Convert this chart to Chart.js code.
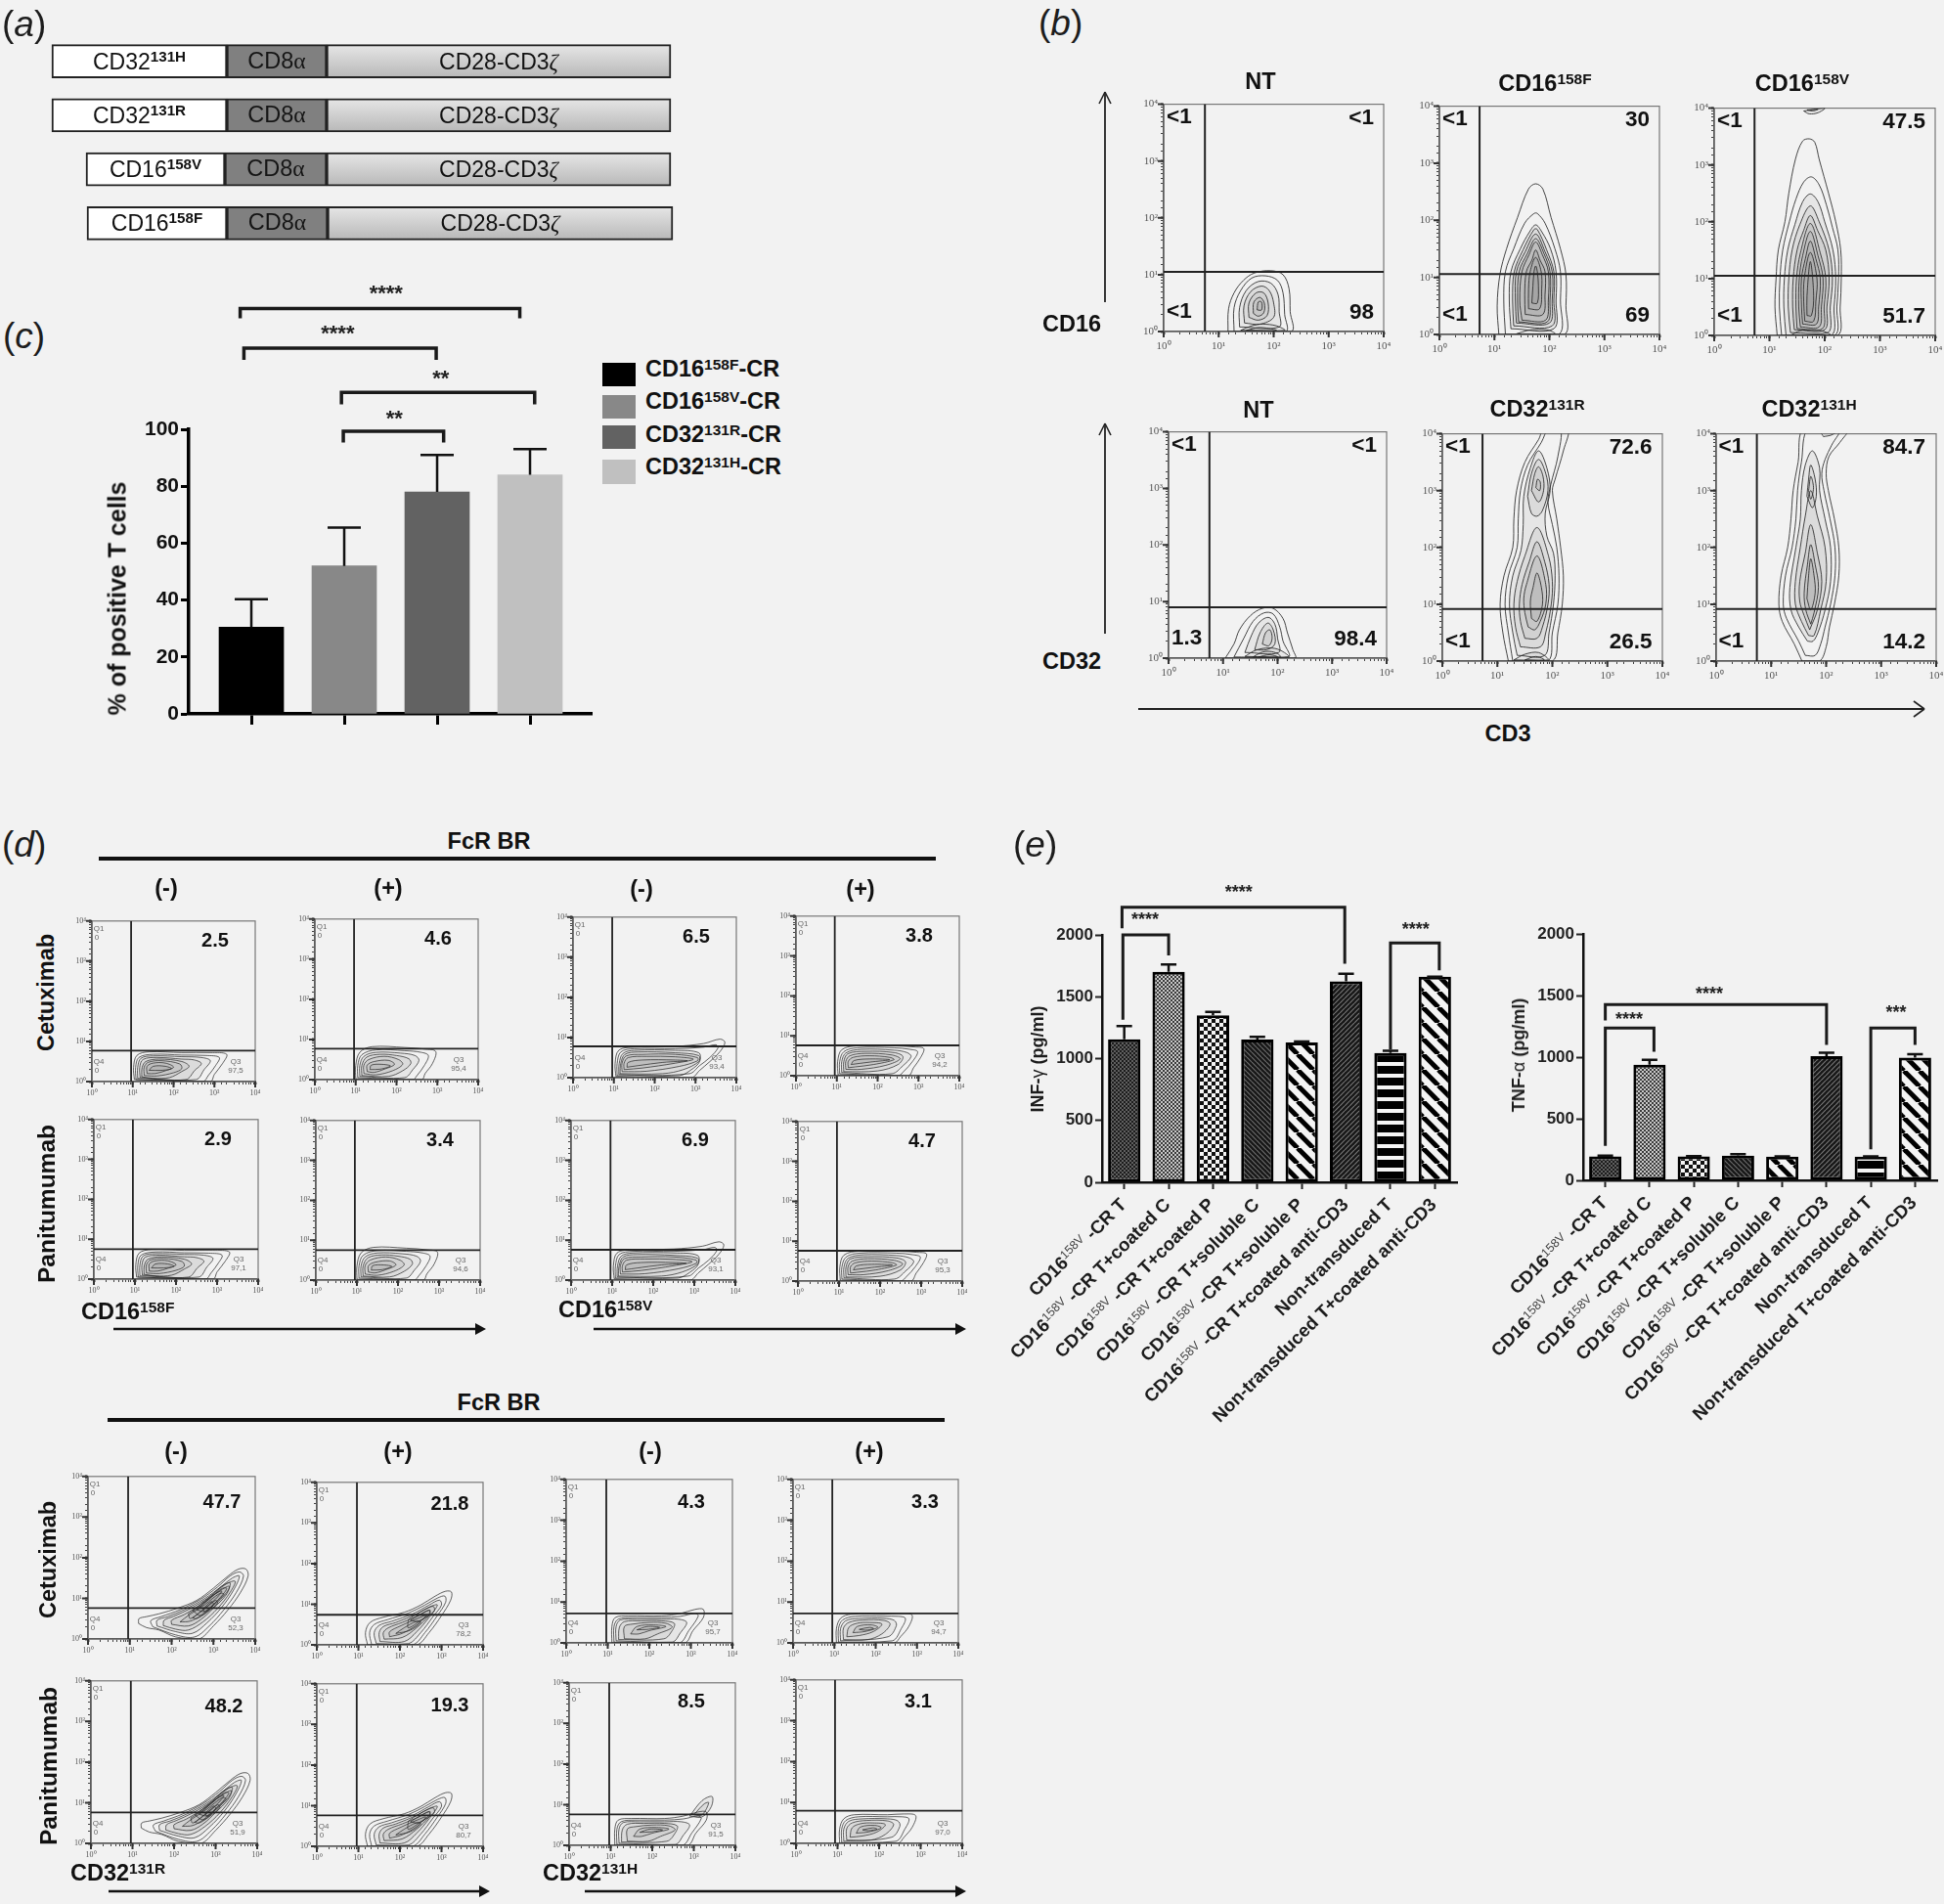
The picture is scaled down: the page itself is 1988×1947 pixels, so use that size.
<!DOCTYPE html>
<html><head><meta charset="utf-8">
<script src="https://cdn.jsdelivr.net/npm/chart.js@4"></script>
<style>
html,body{margin:0;padding:0;background:#f2f2f2;}
#page{position:relative;width:1988px;height:1947px;background:#f2f2f2;overflow:hidden;font-family:"Liberation Sans",Arial,sans-serif;color:#111;filter:blur(0.45px);}
canvas{position:absolute;display:block;}
.t{position:absolute;white-space:nowrap;line-height:1;}
.c{transform:translate(-50%,-50%);}
.r90{transform:translate(-50%,-50%) rotate(-90deg);}
.b{font-weight:700;}
.s{font-size:.66em;vertical-align:.5em;line-height:0;}
.g{font-family:"Liberation Serif",serif;}
svg{position:absolute;left:0;top:0;}
</style></head><body><div id="page"></div>
<script>
/* ---------- panel (a): construct domains, schematic units ---------- */
const constructs=['CD32<span class="s b">131H</span>','CD32<span class="s b">131R</span>','CD16<span class="s b">158V</span>','CD16<span class="s b">158F</span>'];
const ligandDomain=[[53,232],[53,232],[88,230],[89,232]];
const hingeDomain=[[232,334],[232,334],[230,334],[232,335]];
const signalDomain=[[334,686],[334,686],[334,686],[335,688]];

/* ---------- panel (c) ---------- */
const cCategories=['CD16<span class="s">158F</span>-CR','CD16<span class="s">158V</span>-CR','CD32<span class="s">131R</span>-CR','CD32<span class="s">131H</span>-CR'];
const cValues=[30.5,52,78,84];
const cErrorTop=[40.3,65.5,91,93];
const cTicks=[0,20,40,60,80,100];

/* ---------- panel (e) ---------- */
const eCategories=['CD16<span class="s e">158V</span>&nbsp;-CR T','CD16<span class="s e">158V</span>&nbsp;-CR T+coated C','CD16<span class="s e">158V</span>&nbsp;-CR T+coated P','CD16<span class="s e">158V</span>&nbsp;-CR T+soluble C','CD16<span class="s e">158V</span>&nbsp;-CR T+soluble P','CD16<span class="s e">158V</span>&nbsp;-CR T+coated anti-CD3','Non-transduced T','Non-transduced T+coated anti-CD3'];
const infValues=[1157,1701,1350,1154,1130,1625,1045,1662];
const infErrorTop=[1263,1761,1378,1175,1139,1686,1063,1662];
const tnfValues=[195,939,195,200,192,1007,192,996];
const tnfErrorTop=[200,979,197,212,195,1035,195,1024];
const eTicks=[0,500,1000,1500,2000];

/* ---------- flow cytometry contours, log10 units: x1,y1,x2,y2,... ---------- */
const NT16=[
[1.17,0,1.18,.4,1.28,.68,1.45,.9,1.65,1.03,1.95,1.07,2.17,1,2.28,.75,2.3,.35,2.32,0],
[1.28,0,1.28,.42,1.4,.72,1.6,.94,1.85,.98,2.07,.9,2.17,.68,2.2,.3,2.22,0],
[1.38,.08,1.38,.42,1.5,.72,1.72,.88,1.95,.85,2.08,.65,2.1,.35,2.1,.08],
[1.47,.15,1.46,.45,1.58,.7,1.78,.8,1.92,.72,2,.5,2,.25,1.75,.13],
[1.55,.25,1.55,.5,1.68,.68,1.82,.68,1.9,.5,1.88,.28,1.72,.2],
[1.63,.32,1.64,.52,1.75,.6,1.83,.5,1.82,.33,1.72,.27],
[1.7,.38,1.72,.52,1.78,.52,1.78,.38],
[1.4,.02,1.6,.1,1.8,.13,2.05,.1,2.2,.02],
[1.5,.02,1.75,.07,2.05,.02]];
const NT32=[
[1.04,0,1.2,.25,1.3,.5,1.5,.75,1.72,.88,1.92,.88,2.1,.7,2.18,.45,2.28,.15,2.32,0],
[1.2,.02,1.38,.35,1.55,.65,1.75,.8,1.92,.78,2.04,.55,2.1,.3,2.2,.02],
[1.4,.1,1.52,.4,1.65,.62,1.83,.72,1.95,.6,2,.35,2.02,.1],
[1.58,.15,1.68,.45,1.82,.62,1.92,.5,1.95,.25,1.8,.15],
[1.72,.25,1.78,.45,1.86,.5,1.9,.35,1.84,.22],
[1.4,.03,1.6,.14,1.85,.18,2.05,.14,2.2,.02],
[1.55,.02,1.7,.1,1.85,.12,2,.08,2.05,.02],
[1.65,.02,1.85,.06,2,.02]];
const TALL16F=[
[1.08,0,1.05,.5,1.1,1.05,1.22,1.5,1.42,2.05,1.62,2.55,1.75,2.64,1.88,2.55,2.03,2.05,2.2,1.5,2.3,1.05,2.3,.5,2.27,0],
[1.2,0,1.17,.6,1.2,1.1,1.35,1.5,1.55,1.95,1.72,2.12,1.78,2.12,1.92,1.95,2.1,1.5,2.2,1.1,2.2,.6,2.17,0],
[1.3,.1,1.27,.6,1.3,1.1,1.47,1.5,1.64,1.8,1.75,1.92,1.86,1.8,2.02,1.5,2.12,1.1,2.12,.6,2.08,.1],
[1.4,.2,1.38,.6,1.4,1.1,1.56,1.45,1.75,1.76,1.92,1.45,2.05,1.1,2.05,.6,2,.2],
[1.5,.25,1.46,.6,1.5,1.1,1.63,1.4,1.75,1.62,1.87,1.4,1.98,1.1,1.98,.6,1.93,.25],
[1.56,.35,1.55,.7,1.58,1.1,1.68,1.3,1.75,1.48,1.83,1.3,1.92,1.1,1.92,.7,1.88,.35],
[1.62,.45,1.62,.8,1.65,1.1,1.75,1.35,1.85,1.1,1.86,.8,1.82,.45],
[1.68,.55,1.7,.85,1.72,1.1,1.75,1.2,1.78,1.1,1.8,.85,1.78,.55],
[1.35,.15,1.33,.6,1.36,1.1,1.52,1.48,1.72,1.84,1.78,1.84,1.95,1.48,2.08,1.1,2.08,.6,2.05,.15],
[1.44,.22,1.42,.6,1.45,1.1,1.6,1.42,1.75,1.68,1.9,1.42,2.01,1.1,2.01,.6,1.96,.22],
[1.4,.01,1.6,.07,1.8,.09,2,.07,2.1,.01]];
const TALL16V=[
[1.14,0,1.1,.5,1.12,1,1.16,1.5,1.28,2,1.35,2.5,1.47,3.1,1.6,3.42,1.72,3.46,1.82,3.4,1.9,3.1,2.07,2.5,2.2,2,2.29,1.5,2.3,1,2.28,.5,2.23,0],
[1.22,0,1.18,.5,1.19,1,1.24,1.5,1.36,2,1.48,2.4,1.62,2.7,1.76,2.79,1.9,2.65,2.03,2.3,2.14,1.9,2.24,1.5,2.25,1,2.22,.5,2.18,0],
[1.3,0,1.26,.5,1.27,1,1.33,1.5,1.46,1.95,1.6,2.35,1.74,2.49,1.88,2.35,2,2,2.15,1.5,2.2,1,2.17,.5,2.12,0],
[1.38,.05,1.34,.5,1.35,1,1.41,1.5,1.55,1.95,1.74,2.28,1.9,2,2.08,1.5,2.14,1,2.1,.5,2.06,.05],
[1.45,.1,1.42,.5,1.43,1,1.5,1.5,1.62,1.85,1.74,2.11,1.87,1.85,2.02,1.5,2.08,1,2.04,.5,2,.1],
[1.5,.12,1.48,.5,1.49,1,1.56,1.45,1.74,1.97,1.92,1.45,2.02,1,1.99,.5,1.96,.12],
[1.56,.15,1.53,.5,1.54,1,1.6,1.4,1.74,1.83,1.88,1.4,1.97,1,1.94,.5,1.9,.15],
[1.6,.2,1.58,.5,1.58,1,1.65,1.35,1.74,1.66,1.84,1.35,1.92,1,1.89,.5,1.85,.2],
[1.64,.25,1.62,.6,1.63,1,1.74,1.46,1.86,1,1.84,.6,1.8,.25],
[1.68,.35,1.68,.7,1.74,1.3,1.8,.7,1.76,.35],
[1.4,.01,1.55,.08,1.75,.1,1.95,.08,2.1,.01],
[1.62,3.95,1.72,3.9,1.88,3.92,2,4],
[1.68,3.97,1.78,3.95,1.88,3.98]];
const TALL32R=[
[1.2,0,1.1,.5,1.05,1,1.12,1.5,1.28,2,1.3,2.5,1.35,3,1.5,3.5,1.75,3.9,1.86,4.1,2.28,4.1,2.2,3.7,2.05,3.2,2,3,2.08,2.5,2.15,2,2.2,1.5,2.18,1,2.1,.5,2,0],
[1.28,0,1.2,.5,1.14,1,1.2,1.5,1.36,2,1.38,2.5,1.42,3,1.55,3.45,1.8,3.85,1.94,4.1,2.15,4.1,2.1,3.6,1.97,3.1,1.92,2.8,2,2.4,2.08,2,2.12,1.5,2.1,1,2,.5,1.92,0],
[1.36,.1,1.28,.5,1.22,1,1.28,1.5,1.43,1.95,1.47,2.4,1.48,2.9,1.6,3.4,1.75,3.7,1.9,3.4,1.96,3,1.87,2.6,1.9,2.2,2.02,1.9,2.05,1.5,2.02,1,1.94,.5,1.86,.1],
[1.55,2.9,1.62,3.3,1.75,3.55,1.88,3.3,1.92,3,1.82,2.65,1.72,2.55,1.62,2.6],
[1.62,3,1.68,3.3,1.75,3.42,1.83,3.25,1.84,3,1.75,2.8],
[1.7,3.05,1.73,3.2,1.78,3.15,1.77,3],
[1.42,.25,1.33,.6,1.3,1,1.36,1.4,1.5,1.85,1.72,2.35,1.93,1.85,2,1.4,1.98,1,1.88,.5,1.78,.25],
[1.5,.4,1.42,.7,1.4,1,1.45,1.35,1.58,1.75,1.72,2.1,1.86,1.75,1.94,1.35,1.92,1,1.82,.6,1.72,.4],
[1.56,.6,1.5,.85,1.48,1.1,1.53,1.35,1.72,1.85,1.88,1.35,1.88,1,1.78,.7,1.68,.55],
[1.62,.75,1.6,1.05,1.65,1.3,1.72,1.55,1.8,1.3,1.82,1,1.72,.7],
[1.3,.02,1.5,.12,1.75,.15,1.92,.02],
[1.5,.02,1.7,.08,1.85,.02]];
const TALL32H=[
[1.56,0,1.42,.3,1.2,.7,1.14,1,1.18,1.5,1.3,2,1.36,2.5,1.4,3,1.49,3.5,1.6,4.1,2.4,4.1,2.25,3.85,2.05,3.6,2,3.3,2.04,3,2.15,2.5,2.23,2,2.23,1.5,2.15,1,2.06,.6,2,.25,1.88,0],
[1.62,.1,1.5,.35,1.28,.75,1.22,1,1.26,1.5,1.38,2,1.45,2.5,1.48,3,1.55,3.5,1.68,4.1,2.25,4.1,2.1,3.8,1.98,3.55,1.92,3.3,1.96,3,2.07,2.5,2.16,2,2.16,1.5,2.08,1,1.98,.6,1.9,.3,1.8,.1],
[1.66,.35,1.5,.6,1.36,.9,1.34,1.3,1.45,2,1.53,2.5,1.55,3,1.62,3.45,1.75,3.7,1.88,3.4,1.88,3,1.98,2.5,2.08,2,2.08,1.4,1.98,.9,1.85,.5,1.76,.35],
[1.68,.45,1.55,.7,1.44,1,1.44,1.4,1.53,2,1.62,2.55,1.72,3,1.84,2.55,1.98,2,2,1.4,1.9,.9,1.78,.45],
[1.7,.55,1.6,.8,1.52,1.05,1.52,1.4,1.62,1.9,1.72,2.4,1.84,1.9,1.92,1.4,1.84,.9],
[1.72,.65,1.63,.9,1.6,1.2,1.66,1.7,1.72,2.05,1.8,1.7,1.86,1.3,1.78,.85],
[1.65,1.1,1.68,1.5,1.72,1.8,1.78,1.5,1.8,1.2,1.72,.9],
[1.65,2.9,1.68,3.2,1.72,3.45,1.8,3.2,1.82,2.9,1.75,2.7],
[1.68,3,1.72,3.25,1.77,3.05,1.72,2.85],
[1.95,3.95,2.1,3.98,2.2,4.05,1.9,4.05]];
const H16F=[
[1.04,.05,1.02,.35,1.1,.65,1.4,.74,2.2,.72,2.9,.72,3.3,.68,3.2,.45,3,.18,2.9,0],
[1.08,.05,1.07,.35,1.15,.6,1.5,.68,2.2,.66,2.8,.65,3.12,.6,3.03,.4,2.85,.15,2.72,0],
[1.12,.08,1.12,.35,1.2,.58,1.5,.64,2.2,.62,2.68,.6,2.9,.52,2.75,.3,2.55,.05],
[1.18,.1,1.17,.35,1.25,.55,1.6,.6,2.2,.56,2.5,.54,2.68,.45,2.52,.28,2.3,.05],
[1.22,.12,1.23,.35,1.32,.5,1.65,.56,2.2,.5,2.38,.38,2.2,.25,1.9,.1,1.5,.08],
[1.28,.15,1.28,.36,1.38,.48,1.7,.52,2.15,.44,2.2,.32,2,.22,1.6,.14],
[1.35,.2,1.35,.38,1.5,.46,1.8,.46,2,.36,1.8,.27,1.55,.2],
[1.4,.28,1.5,.38,1.8,.38,1.95,.32,1.7,.28]];
const H16FP=[
[1,.02,1,.35,1.1,.68,1.4,.82,2.2,.8,2.7,.76,2.96,.7,2.88,.4,2.7,.15,2.62,0],
[1.05,.05,1.05,.35,1.15,.62,1.5,.74,2.2,.72,2.6,.68,2.78,.6,2.68,.35,2.5,.1,2.4,0],
[1.1,.08,1.1,.35,1.2,.58,1.5,.68,2.1,.66,2.45,.6,2.55,.48,2.4,.25,2.2,.05],
[1.15,.1,1.15,.35,1.27,.56,1.6,.63,2,.6,2.3,.52,2.35,.4,2.15,.22,1.8,.08],
[1.2,.15,1.2,.36,1.32,.5,1.7,.58,2.05,.5,2.15,.38,1.9,.22,1.5,.12],
[1.28,.2,1.28,.36,1.45,.45,1.8,.48,1.95,.38,1.7,.26,1.45,.18],
[1.35,.25,1.38,.36,1.65,.38,1.85,.34,1.6,.26]];
const H16V=[
[1.05,.03,1.03,.35,1.12,.68,1.5,.76,2.5,.78,3.2,.85,3.6,.96,3.72,.88,3.6,.65,3.35,.4,3.1,.18,2.9,0],
[1.08,.05,1.08,.35,1.17,.64,1.5,.72,2.5,.72,3.2,.76,3.5,.82,3.55,.74,3.35,.5,3.1,.3,2.85,.1],
[1.12,.08,1.13,.35,1.22,.6,1.5,.68,2.5,.68,3.08,.62,3.1,.4,2.9,.2,2.6,.05],
[1.15,.1,1.17,.36,1.27,.58,1.6,.64,2.5,.62,3.08,.55,3.08,.4,2.7,.2,2.2,.1],
[1.2,.15,1.2,.36,1.3,.54,1.7,.58,2.5,.58,3.05,.5,3.05,.42,2.6,.28,1.8,.16],
[1.25,.2,1.25,.36,1.35,.5,1.8,.53,2.5,.52,2.95,.46,2.5,.36,1.7,.24],
[1.32,.26,1.35,.38,1.7,.44,2.5,.44,2.8,.42,2.2,.38,1.6,.3]];
const H16VP=[
[1.03,.02,1.02,.35,1.12,.65,1.5,.75,2.4,.75,2.9,.72,3.13,.68,3.05,.45,2.88,.2,2.75,0],
[1.07,.05,1.07,.35,1.17,.6,1.5,.7,2.4,.7,2.8,.66,2.98,.6,2.85,.35,2.65,.12,2.5,0],
[1.12,.08,1.12,.35,1.22,.57,1.6,.66,2.4,.64,2.72,.58,2.82,.48,2.62,.25,2.35,.05],
[1.17,.1,1.17,.35,1.27,.55,1.7,.61,2.4,.58,2.62,.48,2.5,.28,2,.12],
[1.22,.16,1.22,.36,1.32,.5,1.7,.56,2.35,.52,2.55,.42,2.2,.26,1.6,.16],
[1.28,.2,1.28,.36,1.4,.46,1.8,.5,2.3,.46,2.4,.4,1.9,.28,1.45,.22],
[1.35,.28,1.42,.38,1.8,.42,2.3,.4,1.8,.34]];
const BANANA_L=[
[1.21,.38,1.22,.5,1.4,.55,1.7,.62,2.15,.76,2.6,.95,3,1.25,3.35,1.55,3.6,1.72,3.78,1.72,3.83,1.55,3.65,1.15,3.35,.72,3,.32,2.65,0,2.1,.05,1.7,.22,1.4,.28],
[1.55,.3,1.5,.45,1.75,.55,2.2,.72,2.7,.98,3.1,1.28,3.4,1.55,3.62,1.65,3.72,1.55,3.55,1.15,3.25,.72,2.9,.32,2.55,.05,2.1,.1],
[1.65,.32,1.65,.46,1.9,.55,2.3,.72,2.8,1,3.2,1.3,3.45,1.5,3.62,1.55,3.48,1.2,3.2,.78,2.85,.4,2.5,.14,2.1,.18],
[1.8,.33,1.82,.46,2.05,.56,2.45,.75,2.9,1.03,3.3,1.35,3.52,1.42,3.4,1.15,3.1,.75,2.75,.42,2.4,.22,2.1,.24],
[2,.36,2,.46,2.3,.6,2.7,.85,3.1,1.15,3.38,1.3,3.3,1.08,3,.76,2.7,.48,2.4,.32],
[2.2,.42,2.4,.58,2.8,.85,3.15,1.12,3.25,1.1,3,.85,2.7,.58,2.45,.44],
[2.5,.52,2.8,.75,3.05,.95,3.1,.88,2.85,.66,2.6,.5],
[2.75,.74,2.95,.92,3,.85,2.8,.66],
[2.5,.7,2.85,.98,3.2,1.3,3.4,1.38,3.32,1.15,3,.82,2.7,.58],
[2.6,.72,2.9,.98,3.2,1.24,3.32,1.24,3.1,.95,2.8,.68],
[2.4,.62,2.7,.82,3,1.08,3.2,1.18,3.05,.98,2.75,.72,2.45,.5]];
const BANANA_S=[
[1.22,0,1.17,.3,1.28,.55,1.6,.68,2.1,.8,2.5,.98,2.85,1.2,3.1,1.32,3.24,1.3,3.22,1.1,3,.72,2.7,.3,2.4,0],
[1.32,0,1.27,.3,1.38,.5,1.7,.62,2.2,.78,2.6,.98,2.9,1.15,3.08,1.2,3.1,1.05,2.9,.72,2.6,.3,2.3,0],
[1.43,.03,1.38,.3,1.5,.48,1.8,.58,2.3,.76,2.7,.98,2.95,1.1,3,.98,2.8,.7,2.5,.3,2.2,.03],
[1.52,.08,1.5,.3,1.6,.45,1.9,.55,2.4,.76,2.75,.95,2.9,.98,2.72,.7,2.4,.32,2.1,.08],
[1.62,.14,1.6,.3,1.72,.42,2.05,.55,2.45,.72,2.7,.85,2.72,.75,2.4,.42,2.05,.18],
[1.75,.2,1.75,.32,2,.46,2.4,.64,2.62,.72,2.42,.5,2.05,.28],
[1.9,.28,2.1,.42,2.4,.58,2.5,.55,2.25,.36],
[2.2,.62,2.5,.82,2.8,.95,2.82,.82,2.5,.6,2.2,.42],
[2.25,.6,2.5,.76,2.72,.86,2.7,.76,2.45,.58]];
const HR=[
[1.1,0,1.1,.4,1.18,.62,1.5,.66,2.3,.66,2.75,.72,3.1,.82,3.3,.82,3.3,.62,3.05,.3,2.85,0],
[1.15,.02,1.15,.4,1.25,.58,1.6,.62,2.3,.62,2.75,.65,3.1,.72,3.18,.66,2.95,.3,2.72,0],
[1.2,.05,1.2,.4,1.3,.56,1.7,.58,2.3,.58,2.7,.58,2.9,.5,2.75,.25,2.55,.02],
[1.26,.08,1.28,.38,1.4,.52,1.8,.54,2.3,.54,2.6,.48,2.55,.3,2.35,.1],
[1.4,.1,1.4,.4,1.6,.46,2,.5,2.4,.48,2.55,.38,2.2,.22,1.9,.1],
[1.55,.22,1.7,.4,2.1,.44,2.4,.4,2,.3,1.75,.22],
[1.7,.32,1.95,.4,2.25,.38,1.95,.33]];
const HR_TAIL=[...HR,
[2.9,.72,3.2,1.1,3.44,1.2,3.42,.95,3.2,.7],
[3,.75,3.25,1.02,3.36,1.05,3.2,.75]];
const HRP=[
[1.05,0,1.05,.35,1.15,.6,1.4,.7,2.2,.7,2.6,.72,2.88,.68,2.8,.4,2.6,.15,2.45,0],
[1.1,.02,1.1,.35,1.2,.56,1.5,.65,2.2,.65,2.55,.65,2.72,.6,2.62,.35,2.4,.05],
[1.15,.05,1.15,.35,1.27,.54,1.6,.6,2.2,.6,2.45,.55,2.5,.42,2.3,.15],
[1.22,.08,1.22,.36,1.35,.5,1.7,.56,2.2,.55,2.35,.46,2.15,.22,1.8,.08],
[1.3,.15,1.35,.38,1.55,.48,1.85,.5,2.15,.46,1.95,.28,1.6,.18],
[1.45,.25,1.55,.4,1.9,.44,2.05,.38,1.75,.28],
[1.6,.33,1.85,.38,1.95,.35,1.75,.31]];

/* ---------- flow plots: values (gates in log10) ---------- */
const logTickLabels={0:'10⁰',1:'10¹',2:'10²',3:'10³',4:'10⁴'};
const gatesB=[[.75,1.05],[.73,1.06],[.73,1.05],[.75,.9],[.73,.915],[.74,.915]];
const shapesB=[NT16,TALL16F,TALL16V,NT32,TALL32R,TALL32H];
const quadrantsB=[['<1','<1','<1','98'],['<1','30','<1','69'],['<1','47.5','<1','51.7'],['<1','<1','1.3','98.4'],['<1','72.6','<1','26.5'],['<1','84.7','<1','14.2']];
const gatesD=[[.96,.77],[.96,.77],[.95,.75],[.95,.75],[.96,.78],[.95,.76],[.96,.76],[.95,.76],[.96,.76],[.965,.74],[.96,.76],[.96,.76],[.965,.72],[.95,.72],[.965,.76],[.94,.8]];
const shapesD=[H16F,H16FP,H16F,H16FP,H16V,H16VP,H16V,H16VP,BANANA_L,BANANA_S,BANANA_L,BANANA_S,HR,HRP,HR_TAIL,HRP];
const upperPercent=['2.5','4.6','2.9','3.4','6.5','3.8','6.9','4.7','47.7','21.8','48.2','19.3','4.3','3.3','8.5','3.1'];
const q3Percent=['97,5','95,4','97,1','94,6','93,4','94,2','93,1','95,3','52,3','78,2','51,9','80,7','95,7','94,7','91,5','97,0'];

/* ---------- layout (pixels), separate from data ---------- */
const boxesB=[[1190,103,1415,339],[1472,105,1697,342],[1753,107,1979,343],[1195,438,1418,673],[1475,440,1699.5,676],[1754.5,440,1979,676]];
const boxesD=[[94,940,261,1106],[322,938,489,1104],[96,1143,264,1308],[323,1144,491,1309],[586,936,753,1102],[814,935,981,1100],[584,1144,752,1309],[816,1145,984,1310],[90,1508,261,1676],[324,1514,494,1682],[93,1717,263,1885],[324,1720,494,1888],[579,1511,749,1679.5],[811,1511,980,1679.5],[582,1719,752,1887],[814,1716,984,1884.5]];
const percentInset=[[41,21],[41,21],[41,21],[41,21],[41,21],[41,21],[41,21],[41,21],[34,27],[34,23],[34,27],[34,23],[42,24],[34,24],[45,20],[45,23]];

const page=document.getElementById('page');
function txt(html,x,y,size,cls,extra){const d=document.createElement('div');d.className='t '+(cls||'c');d.innerHTML=html;d.style.left=x+'px';d.style.top=y+'px';d.style.fontSize=size+'px';if(extra)d.style.cssText+=';'+extra;page.appendChild(d);return d;}
function mkCanvas(l,t,w,h){const c=document.createElement('canvas');c.width=w;c.height=h;c.style.left=l+'px';c.style.top=t+'px';c.style.width=w+'px';c.style.height=h+'px';page.appendChild(c);return c;}
function geom(box,pad){const [l,t,r,b]=box;const [pl,pt,pr,pb]=pad;return {canvas:mkCanvas(l-pl,t-pt,Math.round(r-l+pl+pr),Math.round(b-t+pt+pb)),layout:{autoPadding:false,padding:{left:0,top:pt,right:pr,bottom:0}},fitX:s=>{s.height=pb;},fitY:s=>{s.width=pl;}};}
Chart.defaults.animation=false;
Chart.defaults.responsive=false;
Chart.defaults.font.family='"Liberation Sans",Arial,sans-serif';
const noPlug={legend:{display:false},tooltip:{enabled:false},title:{display:false}};

/* ---------- helper plugins working through scales ---------- */
function errorPlugin(xs,vals,tops,cap,lw){return {id:'err',afterDatasetsDraw(ch){const c=ch.ctx,X=ch.scales.x,Y=ch.scales.y;c.save();c.strokeStyle='#111';c.lineWidth=lw;vals.forEach((v,i)=>{const x=X.getPixelForValue(xs[i]),y0=Y.getPixelForValue(v),y1=Y.getPixelForValue(tops[i]);c.beginPath();c.moveTo(x,y0);c.lineTo(x,y1);c.moveTo(x-cap/2,y1);c.lineTo(x+cap/2,y1);c.stroke();});c.restore();}};}
function bracketPlugin(items,lw,font){return {id:'br',afterDatasetsDraw(ch){const c=ch.ctx,X=ch.scales.x,Y=ch.scales.y;c.save();c.strokeStyle='#1a1a1a';c.lineWidth=lw;c.lineJoin='miter';c.fillStyle='#222';c.font=font;c.textAlign='center';c.textBaseline='middle';items.forEach(b=>{const xa=X.getPixelForValue(b.from),xb=X.getPixelForValue(b.to);c.beginPath();c.moveTo(xa,Y.getPixelForValue(b.leftEnd));c.lineTo(xa,Y.getPixelForValue(b.top));c.lineTo(xb,Y.getPixelForValue(b.top));c.lineTo(xb,Y.getPixelForValue(b.rightEnd));c.stroke();c.fillText(b.stars,X.getPixelForValue(b.starX),Y.getPixelForValue(b.starY));});c.restore();}};}
const framePlugin={id:'frame',beforeDatasetsDraw(ch){const a=ch.chartArea,c=ch.ctx;c.save();c.strokeStyle='#777';c.lineWidth=1.2;c.strokeRect(a.left,a.top,a.right-a.left,a.bottom-a.top);
 c.strokeStyle='#333';c.lineWidth=2;[1,10,100,1000,10000].forEach(v=>{const px=ch.scales.x.getPixelForValue(v),py=ch.scales.y.getPixelForValue(v);c.beginPath();c.moveTo(px,a.bottom);c.lineTo(px,a.bottom+6);c.moveTo(a.left,py);c.lineTo(a.left-6,py);c.stroke();});c.restore();}};

/* ---------- panel (a) ---------- */
(function(){
 const h=221,top=35,g=mkCanvas(0,top,720,h);
 const ctx=g.getContext('2d');
 const grad=ctx.createLinearGradient(0,0,0,h);
 constructs.forEach((_,i)=>{const m=(i+.5)/4,d=17/h;grad.addColorStop(Math.max(0,m-d),'#e6e6e6');grad.addColorStop(m+d,'#b8b8b8');});
 new Chart(g,{type:'bar',data:{labels:constructs.map((_,i)=>i),datasets:[
   {data:ligandDomain,backgroundColor:'#ffffff'},
   {data:hingeDomain,backgroundColor:'#808080'},
   {data:signalDomain,backgroundColor:grad}
  ].map(d=>Object.assign(d,{borderColor:'#222',borderWidth:2,borderSkipped:false,barThickness:34,grouped:false}))},
  options:{indexAxis:'y',layout:{autoPadding:false,padding:0},plugins:noPlug,scales:{x:{type:'linear',min:0,max:720,display:false},y:{display:false,offset:true}}},
  plugins:[{id:'alab',afterRender(ch){if(ch.$lab)return;ch.$lab=1;constructs.forEach((n,i)=>{const y=top+ch.scales.y.getPixelForValue(i);
    txt(n,(ligandDomain[i][0]+ligandDomain[i][1])/2,y,23,'c');
    txt('CD8<span class="g">α</span>',(hingeDomain[i][0]+hingeDomain[i][1])/2,y,23.5,'c','color:#151515');
    txt('CD28-CD3<span class="g" style="font-style:italic">ζ</span>',(signalDomain[i][0]+signalDomain[i][1])/2,y,23,'c');
  });}}]});
})();

/* ---------- panel (c) ---------- */
(function(){
 const xs=cValues.map((_,i)=>i+1);
 const colors=['#000000','#888888','#626262','#c0c0c0'];
 const G=geom([193,439,605,730],[60,149,6,20]);
 new Chart(G.canvas,{type:'bar',data:{datasets:[{data:cValues.map((v,i)=>({x:xs[i],y:v})),backgroundColor:colors,barThickness:66}]},
  options:{layout:G.layout,plugins:noPlug,scales:{
   x:{type:'linear',offset:false,min:.326,max:4.663,afterFit:G.fitX,afterBuildTicks:s=>{s.ticks=xs.map(v=>({value:v}));},ticks:{callback:()=>''},grid:{offset:false,drawOnChartArea:false,tickColor:'#000',tickWidth:3,tickLength:11},border:{color:'#000',width:3.5}},
   y:{min:0,max:100,afterFit:G.fitY,afterBuildTicks:s=>{s.ticks=cTicks.map(v=>({value:v}));},ticks:{color:'#111',padding:2,font:{size:21,weight:'bold'}},grid:{drawOnChartArea:false,tickColor:'#000',tickWidth:3,tickLength:8},border:{color:'#000',width:3.5}}}},
  plugins:[errorPlugin(xs,cValues,cErrorTop,34,2.5),bracketPlugin([
   {from:.88,to:3.89,top:142.4,leftEnd:139,rightEnd:139,stars:'****',starX:2.45,starY:147.5},
   {from:.92,to:2.99,top:128.5,leftEnd:124.4,rightEnd:124.4,stars:'****',starX:1.93,starY:133.5},
   {from:1.97,to:4.05,top:113,leftEnd:108.8,rightEnd:108.8,stars:'**',starX:3.04,starY:117.5},
   {from:1.99,to:3.07,top:99.3,leftEnd:95.4,rightEnd:95.4,stars:'**',starX:2.54,starY:103.5}],3.5,'bold 22px "Liberation Sans"')]});
 txt('% of positive T cells',120,612,25,'r90 b');
 const swY=[[371,395],[404,428],[435,459],[470,495]],txY=[378,411,445,478];
 cCategories.forEach((n,i)=>{const s=document.createElement('div');s.style.cssText='position:absolute;left:616px;width:34px;top:'+swY[i][0]+'px;height:'+(swY[i][1]-swY[i][0])+'px;background:'+colors[i];page.appendChild(s);
  txt(n,660,txY[i],23.5,'b','transform:translateY(-50%)');});
})();

/* ---------- panel (e) patterns ---------- */
function tile(w,h,fn){const c=document.createElement('canvas');c.width=w;c.height=h;const x=c.getContext('2d');fn(x);return x.createPattern(c,'repeat');}
function diag(size,lw,bg,fg,back){return tile(size,size,x=>{x.fillStyle=bg;x.fillRect(0,0,size,size);x.strokeStyle=fg;x.lineWidth=lw;for(let o=-size;o<=size;o+=size){x.beginPath();if(back){x.moveTo(o,0);x.lineTo(o+size,size);}else{x.moveTo(o,size);x.lineTo(o+size,0);}x.stroke();}});}
function checker(n,a,b){return tile(2*n,2*n,x=>{x.fillStyle=a;x.fillRect(0,0,2*n,2*n);x.fillStyle=b;x.fillRect(0,0,n,n);x.fillRect(n,n,n,n);});}
const ePatterns=[
 checker(2,'#1c1c1c','#606060'),
 checker(2,'#3a3a3a','#c8c8c8'),
 checker(4,'#111111','#f4f4f4'),
 diag(5,1.2,'#161616','#6e6e6e',true),
 diag(16,5,'#f4f4f4','#000000',true),
 diag(5,1.2,'#161616','#777777',false),
 tile(4,12,x=>{x.fillStyle='#000';x.fillRect(0,0,4,12);x.fillStyle='#f4f4f4';x.fillRect(0,8,4,4);}),
 diag(16,5,'#f4f4f4','#000000',true)];
function barE(box,pad,values,tops,brackets,title,titleX,titleY){
 const G=geom(box,pad),idx=values.map((_,i)=>i);
 new Chart(G.canvas,{type:'bar',data:{labels:eCategories.map((_,i)=>'g'+i),datasets:[{data:values,backgroundColor:ePatterns,borderColor:'#000',borderWidth:3,borderSkipped:false,barPercentage:.73,categoryPercentage:1}]},
  options:{layout:G.layout,plugins:noPlug,scales:{
   x:{afterFit:G.fitX,offset:true,ticks:{callback:()=>''},grid:{drawOnChartArea:false,offset:false,tickColor:'#222',tickWidth:2,tickLength:7},border:{color:'#111',width:2.5}},
   y:{min:0,max:2000,afterFit:G.fitY,afterBuildTicks:s=>{s.ticks=eTicks.map(v=>({value:v}));},ticks:{color:'#222',padding:2,font:{size:17,weight:'bold'},callback:v=>String(v)},grid:{drawOnChartArea:false,tickColor:'#222',tickWidth:2,tickLength:7},border:{color:'#111',width:2.5}}}},
  plugins:[errorPlugin(idx,values,tops,16,2.5),bracketPlugin(brackets,3,'bold 18px "Liberation Sans"'),{id:'elab',afterRender(ch){if(ch.$l)return;ch.$l=1;
   eCategories.forEach((n,i)=>{const x=box[0]+ch.scales.x.getPixelForValue(i)-ch.chartArea.left;
    const d=txt(n,x-1,box[3]+20,18.8,'b','transform-origin:100% 50%;transform:translate(-100%,-50%) rotate(-45deg);color:#1c1c1c');
    d.querySelectorAll('.e').forEach(e=>{e.style.fontWeight='400';e.style.color='#444';});});}}]});
 txt(title,titleX,titleY,18,'r90 b','color:#1c1c1c');
}
barE([1127,956,1490,1209],[72,70,8,15],infValues,infErrorTop,[
 {from:-.05,to:4.97,top:2224,leftEnd:2054,rightEnd:1767,stars:'****',starX:2.58,starY:2340},
 {from:-.03,to:1,top:2000,leftEnd:1314,rightEnd:1834,stars:'****',starX:.47,starY:2120},
 {from:6,to:7.1,top:1934,leftEnd:1073,rightEnd:1713,stars:'****',starX:6.57,starY:2038}],'INF-<span style="font-weight:400">γ</span> (pg/ml)',1061,1083);
barE([1619,955,1981,1207],[72,20,6,15],tnfValues,tnfErrorTop,[
 {from:0,to:5,top:1426,leftEnd:1298,rightEnd:1100,stars:'****',starX:2.35,starY:1506},
 {from:0,to:1.1,top:1236,leftEnd:280,rightEnd:1044,stars:'****',starX:.54,starY:1302},
 {from:6,to:7,top:1236,leftEnd:252,rightEnd:1100,stars:'***',starX:6.57,starY:1353}],'TNF-<span style="font-weight:400">α</span> (pg/ml)',1553,1079);

/* ---------- flow plots ---------- */
function flow(box,gate,shape,tickSize){
 const G=geom(box,[30,6,14,26]);
 const pt=(a,b)=>({x:Math.pow(10,a),y:Math.pow(10,b)});
 const contours=shape.map((f,k)=>{const d=[];for(let i=0;i<f.length;i+=2)d.push(pt(f[i],f[i+1]));d.push(d[0]);
  return {data:d,showLine:true,pointRadius:0,borderColor:'rgba(40,40,40,.85)',borderWidth:tickSize>9?1:.85,tension:.35,fill:k<2?false:'shape',backgroundColor:'rgba(40,40,40,.055)'};});
 const line=(d)=>({data:d,showLine:true,pointRadius:0,borderColor:'#222',borderWidth:tickSize>9?2:1.8,tension:0,fill:false});
 const isDecade=v=>Math.abs(Math.log10(v)-Math.round(Math.log10(v)))<1e-6;
 const axis=(fit,pad)=>({type:'logarithmic',min:1,max:10000,afterFit:fit,
   ticks:{autoSkip:false,maxRotation:0,minRotation:0,padding:pad,color:'#555',font:{family:'"Liberation Serif",serif',size:tickSize},callback:v=>isDecade(v)?logTickLabels[Math.round(Math.log10(v))]:''},
   grid:{drawOnChartArea:false,tickLength:3,tickColor:'#444',tickWidth:c=>isDecade(c.tick.value)?2:1},border:{color:'#333',width:1.6}});
 new Chart(G.canvas,{type:'scatter',data:{datasets:[...contours,line([pt(gate[0],0),pt(gate[0],4)]),line([pt(0,gate[1]),pt(4,gate[1])])]},
  options:{layout:G.layout,plugins:noPlug,scales:{x:axis(G.fitX,tickSize>9?6:4),y:axis(G.fitY,3)}},plugins:[framePlugin]});
}
boxesB.forEach((b,i)=>{flow(b,gatesB[i],shapesB[i],11);
 const q=quadrantsB[i],S=22.5,[l,t,r,bt]=b;
 txt(q[0],l+3,t+16,S,'b','transform:translateY(-50%)');
 txt(q[1],r-10,t+17,S,'b','transform:translate(-100%,-50%)');
 txt(q[2],l+3,bt-21,S,'b','transform:translateY(-50%)');
 txt(q[3],r-10,bt-20,S,'b','transform:translate(-100%,-50%)');
});
boxesD.forEach((b,i)=>{flow(b,gatesD[i],shapesD[i],8);
 const [l,t,r,bt]=b,sm='color:#666';
 txt(upperPercent[i],r-percentInset[i][0],t+percentInset[i][1],20,'c b');
 txt('Q1',l+7,t+10,8,'c',sm);txt('0',l+5,t+19,8,'c',sm);
 txt('Q4',l+7,bt-20,8,'c',sm);txt('0',l+5,bt-11,8,'c',sm);
 txt('Q3',r-20,bt-20,8,'c',sm);txt(q3Percent[i],r-20,bt-11,8,'c',sm);
});

/* ---------- text & annotations ---------- */
[['a',2,24],['b',1062,23],['c',3,343],['d',2,863],['e',1036,863]].forEach(([n,x,y])=>{
 txt('(<i>'+n+'</i>)',x,y,37,'','transform:translateY(-50%);color:#1d1d1d');});
[['NT',1289,84],['CD16<span class="s">158F</span>',1580,86],['CD16<span class="s">158V</span>',1843,86],['NT',1287,420],['CD32<span class="s">131R</span>',1572,419],['CD32<span class="s">131H</span>',1850,419],['CD16',1096,332],['CD32',1096,677],['CD3',1542,751]].forEach(([s,x,y])=>txt(s,x,y,23.5,'c b'));
[['FcR BR',500,861],['FcR BR',510,1435],['(-)',170,909],['(+)',397,909],['(-)',656,910],['(+)',880,910],['(-)',180,1485],['(+)',407,1485],['(-)',665,1485],['(+)',889,1485]].forEach(([s,x,y])=>txt(s,x,y,23.5,'c b'));
[['Cetuximab',48,1015],['Panitumumab',48,1231],['Cetuximab',50,1595],['Panitumumab',50,1806]].forEach(([s,x,y],i)=>txt(s,x,y,i%2?24.5:23.5,'r90 b'));
[['CD16<span class="s">158F</span>',83,1342],['CD16<span class="s">158V</span>',571,1340],['CD32<span class="s">131R</span>',72,1916],['CD32<span class="s">131H</span>',555,1916]].forEach(([s,x,y])=>txt(s,x,y,23.5,'b','transform:translateY(-50%)'));

const svgNS='http://www.w3.org/2000/svg',svg=document.createElementNS(svgNS,'svg');svg.setAttribute('width',1988);svg.setAttribute('height',1947);page.appendChild(svg);
function ln(x1,y1,x2,y2,w,col){const l=document.createElementNS(svgNS,'line');[['x1',x1],['y1',y1],['x2',x2],['y2',y2],['stroke',col||'#111'],['stroke-width',w]].forEach(a=>l.setAttribute(a[0],a[1]));svg.appendChild(l);}
function poly(pts,fill){const p=document.createElementNS(svgNS,'polygon');p.setAttribute('points',pts);p.setAttribute('fill',fill);svg.appendChild(p);}
ln(101,878,957,878,4);ln(110,1452,966,1452,4);
ln(116,1359,488,1359,2.5);poly('486,1353 497,1359 486,1365','#111');
ln(607,1359,980,1359,2.5);poly('977,1353 988,1359 977,1365','#111');
ln(111,1934,492,1934,2.5);poly('490,1928 501,1934 490,1940','#111');
ln(598,1934,980,1934,2.5);poly('977,1928 988,1934 977,1940','#111');
ln(1130,309,1130,94,1.8,'#222');ln(1130,94,1124,106,1.6,'#222');ln(1130,94,1136,106,1.6,'#222');
ln(1130,648,1130,433,1.8,'#222');ln(1130,433,1124,445,1.6,'#222');ln(1130,433,1136,445,1.6,'#222');
ln(1164,725,1967,725,2.2,'#222');ln(1968,725,1957,717,1.6,'#222');ln(1968,725,1957,733,1.6,'#222');
</script></body></html>
